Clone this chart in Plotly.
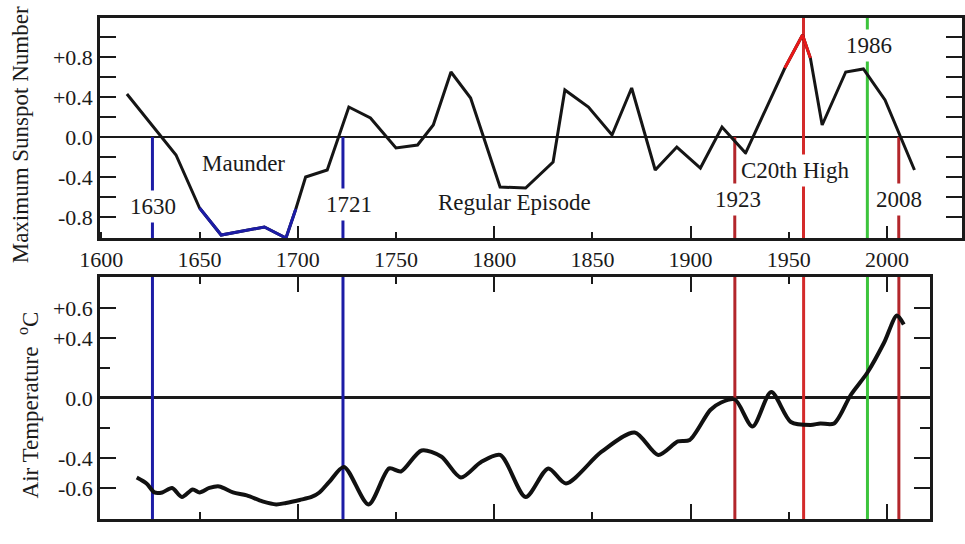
import plotly.graph_objects as go

# ---------------- data ----------------
# Top panel: maximum sunspot number (anomaly)
sun_years = [1613, 1638, 1650, 1661, 1683, 1694, 1699, 1704, 1715, 1726, 1737, 1750,
             1761, 1769, 1778, 1788, 1803, 1816, 1830, 1836, 1848, 1860, 1870, 1882,
             1893, 1905, 1916, 1928, 1948, 1957, 1961, 1967, 1979, 1988, 1999, 2014]
sun_values = [0.43, -0.18, -0.71, -0.98, -0.90, -1.01, -0.72, -0.40, -0.33, 0.30, 0.19, -0.11,
              -0.08, 0.12, 0.65, 0.39, -0.50, -0.51, -0.25, 0.47, 0.30, 0.02, 0.49, -0.33,
              -0.10, -0.31, 0.10, -0.16, 0.69, 1.02, 0.79, 0.12, 0.65, 0.68, 0.37, -0.33]
maunder_years = [1650, 1661, 1683, 1694, 1699]
maunder_values = [-0.71, -0.98, -0.90, -1.01, -0.72]
peak_years = [1948, 1957, 1961]
peak_values = [0.69, 1.02, 0.79]

# Bottom panel: air temperature anomaly (deg C)
temp_years = [1618, 1623, 1627, 1631, 1636, 1641, 1646.5, 1650, 1655, 1660, 1667, 1674,
              1682, 1689, 1694, 1701, 1707, 1711, 1716, 1723.5, 1736, 1746.5, 1752.5, 1763,
              1773, 1783, 1793, 1803, 1816, 1827.5, 1836.5, 1854.5, 1871.5, 1883.5, 1893.5,
              1899.5, 1910, 1915.5, 1922.5, 1931.5, 1941, 1951, 1961, 1966, 1973, 1981.5,
              1990, 1998.5, 2005, 2008.5]
temp_values = [-0.53, -0.57, -0.63, -0.63, -0.60, -0.66, -0.61, -0.63, -0.60, -0.59, -0.63, -0.65,
               -0.69, -0.71, -0.70, -0.68, -0.66, -0.63, -0.56, -0.46, -0.71, -0.47, -0.49, -0.35,
               -0.39, -0.53, -0.43, -0.38, -0.66, -0.47, -0.57, -0.36, -0.23, -0.38, -0.29,
               -0.28, -0.08, -0.03, -0.01, -0.19, 0.04, -0.16, -0.18, -0.17, -0.17, 0.02,
               0.17, 0.37, 0.55, 0.49]

# Marked epochs (vertical lines)
event_years = [1626, 1723, 1922.5, 1957.5, 1990, 2006]
event_colors = ["#1c1ca6", "#1c1ca6", "#b3262b", "#d42a2a", "#3cc43c", "#b3262b"]
event_top_in_sun = [0.0, 0.0, 0.0, 1.19, 1.19, 0.0]

# Tick labels
x_tick_years = [1600, 1650, 1700, 1750, 1800, 1850, 1900, 1950, 2000]
x_tick_text = ["1600", "1650", "1700", "1750", "1800", "1850", "1900", "1950", "2000"]
x_long_ticks = [1700, 1800, 1900, 2000]
x_short_ticks = [1650, 1750, 1850, 1950]
sun_tick_vals = [-0.8, -0.4, 0.0, 0.4, 0.8]
sun_tick_text = ["-0.8", "-0.4", "0.0", "+0.4", "+0.8"]
sun_minor_vals = [-0.6, -0.2, 0.2, 0.6, 1.0]
temp_tick_vals = [-0.6, -0.4, 0.0, 0.4, 0.6]
temp_tick_text = ["-0.6", "-0.4", "0.0", "+0.4", "+0.6"]
temp_minor_vals = [-0.2, 0.2]

# Text labels (data coordinates); masked labels sit on top of an epoch line
sun_labels = ["Maunder", "1630", "1721", "Regular Episode", "C20th High", "1923", "2008", "1986"]
sun_label_x = [1672.5, 1626.5, 1726, 1810.5, 1953, 1924, 2006, 1991]
sun_label_y = [-0.26, -0.70, -0.68, -0.66, -0.33, -0.63, -0.63, 0.92]
sun_label_masked = [False, True, True, False, True, True, True, True]
temp_labels = ["1957", "1986"]
temp_label_x = [1956, 1989.5]
temp_label_y = [-0.915, -0.915]

SUN_TITLE = "Maximum Sunspot Number"
TEMP_TITLE = "Air Temperature  <sup>o</sup>C"

SUN_RANGE = [-1.01, 1.19]
TEMP_RANGE = [-0.807, 0.807]
X_TOP = [1599.3, 2038.2]
X_BOT = [1599.3, 2021.9]

FONT = "Liberation Serif"
INK = "#1a1a1a"

fig = go.Figure()

# vertical epoch lines, top panel
for yr, col, ytop in zip(event_years, event_colors, event_top_in_sun):
    fig.add_trace(go.Scatter(x=[yr, yr], y=[ytop, SUN_RANGE[0]], mode="lines",
                             line=dict(color=col, width=3), xaxis="x", yaxis="y",
                             hoverinfo="skip", showlegend=False))
# vertical epoch lines, bottom panel
for yr, col in zip(event_years, event_colors):
    fig.add_trace(go.Scatter(x=[yr, yr], y=[TEMP_RANGE[1], TEMP_RANGE[0]], mode="lines",
                             line=dict(color=col, width=3), xaxis="x2", yaxis="y2",
                             hoverinfo="skip", showlegend=False))

# sunspot curve
fig.add_trace(go.Scatter(x=sun_years, y=sun_values, mode="lines",
                         line=dict(color="#151515", width=3), xaxis="x", yaxis="y",
                         showlegend=False))
fig.add_trace(go.Scatter(x=maunder_years, y=maunder_values, mode="lines",
                         line=dict(color="#1c1ca6", width=3), xaxis="x", yaxis="y",
                         showlegend=False))
fig.add_trace(go.Scatter(x=peak_years, y=peak_values, mode="lines",
                         line=dict(color="#e81818", width=3), xaxis="x", yaxis="y",
                         showlegend=False))

# temperature curve
fig.add_trace(go.Scatter(x=temp_years, y=temp_values, mode="lines",
                         line=dict(color="#111111", width=4, shape="spline", smoothing=0.8),
                         xaxis="x2", yaxis="y2", showlegend=False))

# dummy trace for the overlay tick axis
fig.add_trace(go.Scatter(x=[None], y=[None], xaxis="x3", yaxis="y", showlegend=False,
                         hoverinfo="skip"))

axis_common = dict(showgrid=False, showline=True, linecolor=INK, linewidth=2.5,
                   ticks="inside", tickcolor=INK, tickwidth=2,
                   tickfont=dict(family=FONT, size=22, color=INK))

top_dom = [0.5625, 0.9669]
bot_dom = [0.046, 0.4908]

fig.update_layout(
    width=965, height=544,
    margin=dict(l=100, r=0, t=0, b=0),
    paper_bgcolor="white", plot_bgcolor="white",
    xaxis=dict(axis_common, domain=[0, 1], range=X_TOP, anchor="y",
               tickmode="array", tickvals=x_tick_years, ticktext=x_tick_text,
               ticklen=6, mirror=True, zeroline=False),
    xaxis3=dict(overlaying="x", anchor="y", range=X_TOP, side="bottom",
                tickmode="array", tickvals=x_long_ticks, ticks="inside", ticklen=12,
                tickwidth=2, tickcolor=INK, showticklabels=False, showgrid=False,
                showline=False, zeroline=False),
    yaxis=dict(axis_common, domain=top_dom, range=SUN_RANGE, anchor="x",
               tickmode="array", tickvals=sun_tick_vals, ticktext=sun_tick_text,
               ticklen=16, mirror="allticks",
               minor=dict(tickmode="array", tickvals=sun_minor_vals, ticks="inside",
                          ticklen=9, tickwidth=2, tickcolor=INK),
               zeroline=True, zerolinecolor=INK, zerolinewidth=2),
    xaxis2=dict(axis_common, domain=[0, 0.963], range=X_BOT, anchor="y2",
                tickmode="array", tickvals=x_long_ticks, ticklen=15,
                showticklabels=False, mirror="allticks", zeroline=False,
                minor=dict(tickmode="array", tickvals=x_short_ticks, ticks="inside",
                           ticklen=7, tickwidth=2, tickcolor=INK)),
    yaxis2=dict(axis_common, domain=bot_dom, range=TEMP_RANGE, anchor="x2",
                tickmode="array", tickvals=temp_tick_vals, ticktext=temp_tick_text,
                ticklen=16, mirror="allticks",
                minor=dict(tickmode="array", tickvals=temp_minor_vals, ticks="inside",
                           ticklen=10, tickwidth=2, tickcolor=INK),
                zeroline=True, zerolinecolor=INK, zerolinewidth=2.5),
)

annotations = []
for txt, xv, yv, masked in zip(sun_labels, sun_label_x, sun_label_y, sun_label_masked):
    annotations.append(dict(text=txt, x=xv, y=yv, xref="x", yref="y", showarrow=False,
                            font=dict(family=FONT, size=23, color=INK),
                            bgcolor="white" if masked else "rgba(0,0,0,0)", borderpad=3))
for txt, xv, yv in zip(temp_labels, temp_label_x, temp_label_y):
    annotations.append(dict(text=txt, x=xv, y=yv, xref="x2", yref="y2", showarrow=False,
                            font=dict(family=FONT, size=22, color=INK)))
# rotated axis titles
annotations.append(dict(text=SUN_TITLE, textangle=-90, xref="paper", yref="paper",
                        x=-0.0925, y=0.7518, xanchor="center", yanchor="middle",
                        showarrow=False, font=dict(family=FONT, size=23, color=INK)))
annotations.append(dict(text=TEMP_TITLE, textangle=-90, xref="paper", yref="paper",
                        x=-0.083, y=0.2555, xanchor="center", yanchor="middle",
                        showarrow=False, font=dict(family=FONT, size=23, color=INK)))
fig.update_layout(annotations=annotations)

fig.write_html("out.html")
